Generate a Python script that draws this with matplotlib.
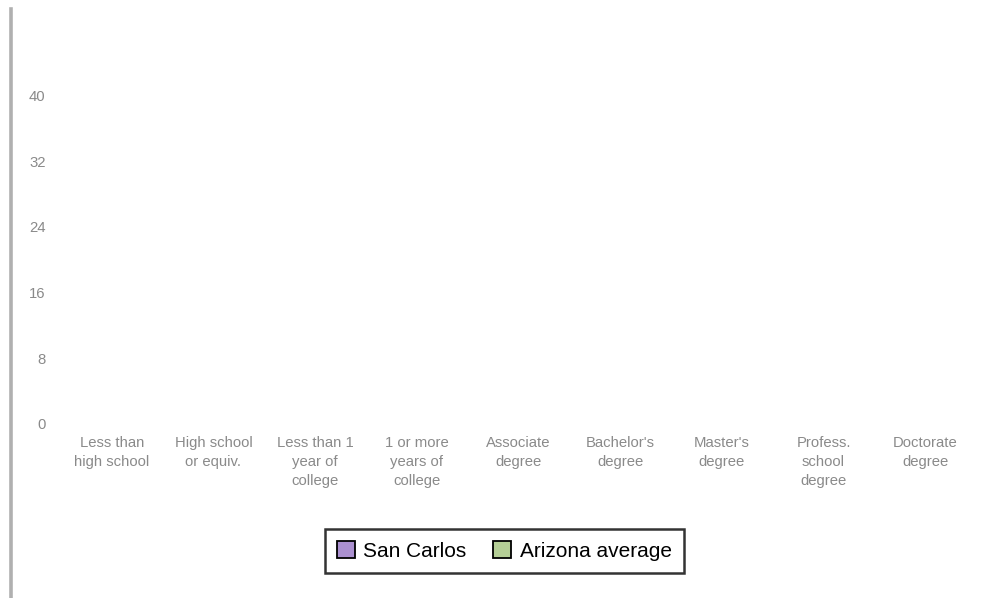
import matplotlib.pyplot as plt
from matplotlib.patches import Patch
from matplotlib.lines import Line2D
import numpy as np

plt.rcParams['font.family'] = ['Liberation Sans', 'DejaVu Sans']

# categories and values (the reference shows no visible bars)
categories = ["Less than\nhigh school", "High school\nor equiv.", "Less than 1\nyear of\ncollege",
              "1 or more\nyears of\ncollege", "Associate\ndegree", "Bachelor's\ndegree",
              "Master's\ndegree", "Profess.\nschool\ndegree", "Doctorate\ndegree"]
san_carlos = [0, 0, 0, 0, 0, 0, 0, 0, 0]
arizona_avg = [0, 0, 0, 0, 0, 0, 0, 0, 0]
yticks = [0, 8, 16, 24, 32, 40]

purple = "#ab90d0"
green = "#b5cf96"

fig = plt.figure(figsize=(9.85, 5.98), dpi=100)
ax = fig.add_axes([0.0619, 0.291, 0.929, 0.659])

x = np.arange(len(categories))
w = 0.35
ax.bar(x - w / 2, san_carlos, w, color=purple, linewidth=0)
ax.bar(x + w / 2, arizona_avg, w, color=green, linewidth=0)

ax.set_xlim(-0.5, len(categories) - 0.5)
ax.set_ylim(0, 48)
ax.set_yticks(yticks)
ax.set_xticks(x)
ax.set_xticklabels(categories, linespacing=1.42)
ax.tick_params(axis="both", length=0, labelsize=10.7, labelcolor="#8a8a8a")
ax.tick_params(axis="y", pad=11)
ax.tick_params(axis="x", pad=9)
for s in ax.spines.values():
    s.set_visible(False)

# gray bar at the left edge
fig.add_artist(Line2D([0.0112, 0.0112], [0, 1 - 9 / 598], color="#b0b0b0", linewidth=2.6,
                      transform=fig.transFigure))

handles = [Patch(facecolor=purple, edgecolor="black", linewidth=1.3, label="San Carlos"),
           Patch(facecolor=green, edgecolor="black", linewidth=1.3, label="Arizona average")]
leg = fig.legend(handles=handles, loc="center", bbox_to_anchor=(0.512, 0.0786), ncol=2,
                 fontsize=15, frameon=True, fancybox=False, handlelength=0.85,
                 handleheight=0.85, handletextpad=0.4, columnspacing=1.3,
                 borderpad=0.6, borderaxespad=0)
leg.get_frame().set_edgecolor("black")
leg.get_frame().set_linewidth(1.8)

fig.savefig("out.png", dpi=100)
